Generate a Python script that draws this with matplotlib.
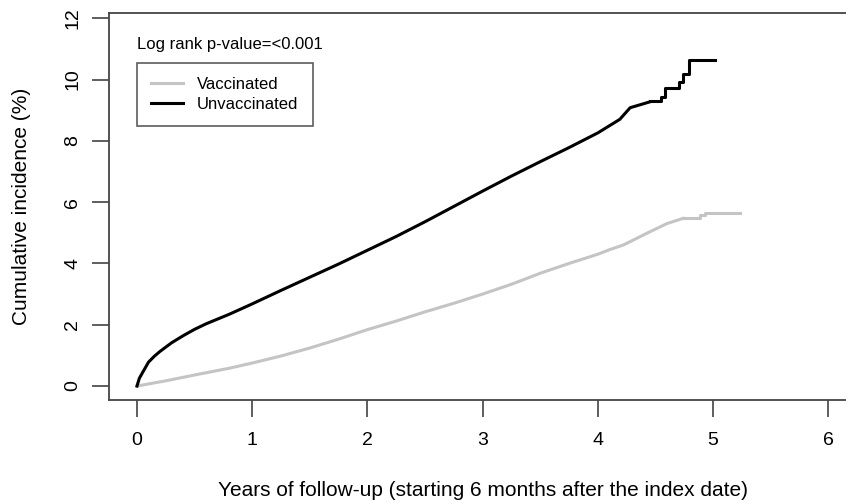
import matplotlib
matplotlib.use("Agg")
import matplotlib.pyplot as plt
from matplotlib.lines import Line2D

plt.rcParams['font.family'] = ['Liberation Sans', 'DejaVu Sans']

# Unvaccinated (black) - smooth part and step tail
unvax_t = [0, 0.02, 0.05, 0.1, 0.15, 0.2, 0.3, 0.4, 0.5, 0.6, 0.8, 1.0, 1.25, 1.5, 1.75, 2.0, 2.25,
           2.5, 2.75, 3.0, 3.25, 3.5, 3.75, 4.0, 4.19, 4.28, 4.45]
unvax_y = [0, 0.25, 0.45, 0.78, 0.97, 1.13, 1.41, 1.64, 1.85, 2.03, 2.34, 2.68, 3.12, 3.55, 3.98, 4.43, 4.88,
           5.36, 5.86, 6.36, 6.85, 7.32, 7.78, 8.26, 8.70, 9.08, 9.27]
unvax_tail_t = [4.45, 4.55, 4.58, 4.70, 4.74, 4.79, 5.02]
unvax_tail_y = [9.30, 9.43, 9.71, 9.93, 10.19, 10.63, 10.63]

# Vaccinated (grey)
vax_t = [0, 0.25, 0.5, 0.8, 1.0, 1.25, 1.5, 1.75, 2.0, 2.25, 2.5, 2.75, 3.0, 3.25, 3.5, 3.75, 4.0, 4.11,
         4.22, 4.45, 4.6, 4.74]
vax_y = [0, 0.17, 0.36, 0.58, 0.75, 0.98, 1.24, 1.53, 1.84, 2.12, 2.42, 2.70, 3.00, 3.32, 3.68, 4.00, 4.30, 4.46,
         4.60, 5.03, 5.30, 5.47]
vax_tail_t = [4.74, 4.89, 4.93, 5.23]
vax_tail_y = [5.47, 5.58, 5.66, 5.66]

xticks = [0, 1, 2, 3, 4, 5, 6]
yticks = [0, 2, 4, 6, 8, 10, 12]

fig = plt.figure(figsize=(8.46, 5.03), dpi=100)
W, H = 846, 503
left, right, top, bottom = 109, 856, 13.3, 400
ax = fig.add_axes([left / W, 1 - bottom / H, (right - left) / W, (bottom - top) / H])

grey = '#c4c4c4'
ax.plot(vax_t, vax_y, color=grey, lw=2.2, solid_joinstyle='round')
ax.plot(vax_tail_t, vax_tail_y, color=grey, lw=2.2, drawstyle='steps-post')
ax.plot(unvax_t, unvax_y, color='black', lw=2.2, solid_joinstyle='round')
ax.plot(unvax_tail_t, unvax_tail_y, color='black', lw=2.2, drawstyle='steps-post')

ax.set_xlim(-0.243, 6.24)
ax.set_ylim(-0.456, 12.16)
ax.set_xticks(xticks)
ax.set_yticks(yticks)
ax.set_xticklabels([str(v) for v in xticks], fontsize=14)
ax.set_yticklabels([str(v) for v in yticks], fontsize=14, rotation=90, va='center')
ax.tick_params(axis='both', direction='out', length=12, width=1.1, color='#333333')
ax.tick_params(axis='x', pad=11)
ax.tick_params(axis='y', pad=8)
for s in ax.spines.values():
    s.set_color('#444444')
    s.set_linewidth(1.3)

ax.set_xlabel('Years of follow-up (starting 6 months after the index date)', fontsize=15, labelpad=23)
ax.set_ylabel('Cumulative incidence (%)', fontsize=15, labelpad=24)

fig.text(137 / W, 1 - 45 / H, 'Log rank p-value=<0.001', fontsize=12, va='center', ha='left')

handles = [Line2D([], [], color=grey, lw=2.2), Line2D([], [], color='black', lw=2.2)]
leg = ax.legend(handles, ['Vaccinated', 'Unvaccinated'], loc='upper left',
                bbox_to_anchor=((137 - left) / (right - left), (bottom - 63) / (bottom - top)),
                fontsize=12, frameon=True, fancybox=False, borderaxespad=0,
                handlelength=1.9, handletextpad=0.85, labelspacing=0.3,
                borderpad=0.85)
leg.get_frame().set_edgecolor('#333333')
leg.get_frame().set_linewidth(1.2)

fig.savefig('out.png', dpi=100)
